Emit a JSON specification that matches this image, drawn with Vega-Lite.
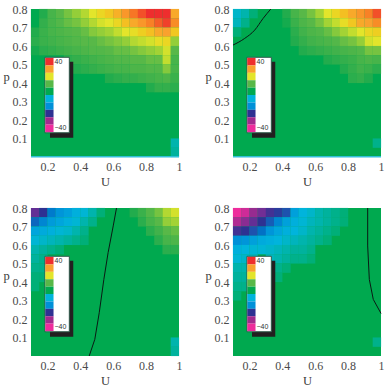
{"$schema":"https://vega.github.io/schema/vega-lite/v6.json","padding":{"left":2,"top":3,"right":2,"bottom":0},"background":"white","bounds":"flush","columns":2,"spacing":{"row":51,"column":54},
"config":{"view":{"stroke":null},"axis":{"domain":false,"ticks":false,"grid":false,"labelFont":"Liberation Serif","titleFont":"Liberation Serif","labelFontSize":12,"titleFontSize":12.5,"titleFontWeight":"normal","labelColor":"#4a4a4a","titleColor":"#3a3a3a"}},
"datasets":{
"bg":[{"u":0.1,"u2":1,"p":0,"p2":0.8,"v":0}],
"shadow":[{"u":0.2155,"u2":0.357,"p":0.104,"p2":0.515}],
"box":[{"u":0.185,"u2":0.333,"p":0.131,"p2":0.539}],
"swatch":[{"u":0.187,"u2":0.237,"p":0.495,"p2":0.535,"v":40},{"u":0.187,"u2":0.237,"p":0.455,"p2":0.495,"v":31},{"u":0.187,"u2":0.237,"p":0.415,"p2":0.455,"v":22},{"u":0.187,"u2":0.237,"p":0.375,"p2":0.415,"v":13},{"u":0.187,"u2":0.237,"p":0.335,"p2":0.375,"v":0},{"u":0.187,"u2":0.237,"p":0.295,"p2":0.335,"v":-11},{"u":0.187,"u2":0.237,"p":0.255,"p2":0.295,"v":-18},{"u":0.187,"u2":0.237,"p":0.215,"p2":0.255,"v":-27},{"u":0.187,"u2":0.237,"p":0.175,"p2":0.215,"v":-35},{"u":0.187,"u2":0.237,"p":0.135,"p2":0.175,"v":-40}],
"lab":[{"u":0.243,"p":0.513,"t":"40"},{"u":0.243,"p":0.156,"t":"−40"}],
"edge1":[{"u":0.1,"p":0.002},{"u":1,"p":0.002}],
"line2":[{"u":0.1,"p":0.605},{"u":0.171,"p":0.641},{"u":0.232,"p":0.686},{"u":0.283,"p":0.749},{"u":0.33,"p":0.8}],
"line3":[{"u":0.62,"p":0.8},{"u":0.6,"p":0.703},{"u":0.569,"p":0.559},{"u":0.543,"p":0.414},{"u":0.515,"p":0.234},{"u":0.488,"p":0.09},{"u":0.454,"p":0}],
"line4":[{"u":0.919,"p":0.8},{"u":0.919,"p":0.595},{"u":0.929,"p":0.414},{"u":0.953,"p":0.306},{"u":1,"p":0.23}],
"h1":[
{"u":0.125,"p":0.775,"v":3},{"u":0.175,"p":0.775,"v":5},{"u":0.225,"p":0.775,"v":10},{"u":0.275,"p":0.775,"v":13},{"u":0.325,"p":0.775,"v":15},{"u":0.375,"p":0.775,"v":17},{"u":0.425,"p":0.775,"v":19},{"u":0.475,"p":0.775,"v":22},{"u":0.525,"p":0.775,"v":24},{"u":0.575,"p":0.775,"v":26},{"u":0.625,"p":0.775,"v":29},{"u":0.675,"p":0.775,"v":32},{"u":0.725,"p":0.775,"v":35},{"u":0.775,"p":0.775,"v":38},{"u":0.825,"p":0.775,"v":40},{"u":0.875,"p":0.775,"v":40},{"u":0.925,"p":0.775,"v":40},{"u":0.975,"p":0.775,"v":30},
{"u":0.125,"p":0.725,"v":3},{"u":0.175,"p":0.725,"v":7},{"u":0.225,"p":0.725,"v":10},{"u":0.275,"p":0.725,"v":12},{"u":0.325,"p":0.725,"v":14},{"u":0.375,"p":0.725,"v":15},{"u":0.425,"p":0.725,"v":17},{"u":0.475,"p":0.725,"v":19},{"u":0.525,"p":0.725,"v":21},{"u":0.575,"p":0.725,"v":22},{"u":0.625,"p":0.725,"v":24},{"u":0.675,"p":0.725,"v":27},{"u":0.725,"p":0.725,"v":30},{"u":0.775,"p":0.725,"v":32},{"u":0.825,"p":0.725,"v":34},{"u":0.875,"p":0.725,"v":37},{"u":0.925,"p":0.725,"v":39},{"u":0.975,"p":0.725,"v":33},
{"u":0.125,"p":0.675,"v":5},{"u":0.175,"p":0.675,"v":8},{"u":0.225,"p":0.675,"v":10},{"u":0.275,"p":0.675,"v":11},{"u":0.325,"p":0.675,"v":12},{"u":0.375,"p":0.675,"v":13},{"u":0.425,"p":0.675,"v":14},{"u":0.475,"p":0.675,"v":16},{"u":0.525,"p":0.675,"v":17},{"u":0.575,"p":0.675,"v":18},{"u":0.625,"p":0.675,"v":20},{"u":0.675,"p":0.675,"v":22},{"u":0.725,"p":0.675,"v":23},{"u":0.775,"p":0.675,"v":25},{"u":0.825,"p":0.675,"v":27},{"u":0.875,"p":0.675,"v":30},{"u":0.925,"p":0.675,"v":31},{"u":0.975,"p":0.675,"v":26},
{"u":0.125,"p":0.625,"v":6},{"u":0.175,"p":0.625,"v":8},{"u":0.225,"p":0.625,"v":9},{"u":0.275,"p":0.625,"v":10},{"u":0.325,"p":0.625,"v":11},{"u":0.375,"p":0.625,"v":12},{"u":0.425,"p":0.625,"v":13},{"u":0.475,"p":0.625,"v":13},{"u":0.525,"p":0.625,"v":14},{"u":0.575,"p":0.625,"v":15},{"u":0.625,"p":0.625,"v":16},{"u":0.675,"p":0.625,"v":17},{"u":0.725,"p":0.625,"v":19},{"u":0.775,"p":0.625,"v":20},{"u":0.825,"p":0.625,"v":21},{"u":0.875,"p":0.625,"v":23},{"u":0.925,"p":0.625,"v":24},{"u":0.975,"p":0.625,"v":17},
{"u":0.125,"p":0.575,"v":4},{"u":0.175,"p":0.575,"v":6},{"u":0.225,"p":0.575,"v":7},{"u":0.275,"p":0.575,"v":8},{"u":0.325,"p":0.575,"v":9},{"u":0.375,"p":0.575,"v":10},{"u":0.425,"p":0.575,"v":11},{"u":0.475,"p":0.575,"v":12},{"u":0.525,"p":0.575,"v":12},{"u":0.575,"p":0.575,"v":13},{"u":0.625,"p":0.575,"v":14},{"u":0.675,"p":0.575,"v":14},{"u":0.725,"p":0.575,"v":15},{"u":0.775,"p":0.575,"v":16},{"u":0.825,"p":0.575,"v":17},{"u":0.875,"p":0.575,"v":18},{"u":0.925,"p":0.575,"v":21},{"u":0.975,"p":0.575,"v":13},
{"u":0.325,"p":0.525,"v":6},{"u":0.375,"p":0.525,"v":7},{"u":0.425,"p":0.525,"v":8},{"u":0.475,"p":0.525,"v":9},{"u":0.525,"p":0.525,"v":10},{"u":0.575,"p":0.525,"v":11},{"u":0.625,"p":0.525,"v":12},{"u":0.675,"p":0.525,"v":12},{"u":0.725,"p":0.525,"v":13},{"u":0.775,"p":0.525,"v":13},{"u":0.825,"p":0.525,"v":14},{"u":0.875,"p":0.525,"v":14},{"u":0.925,"p":0.525,"v":20},{"u":0.975,"p":0.525,"v":10},
{"u":0.375,"p":0.475,"v":5},{"u":0.425,"p":0.475,"v":6},{"u":0.475,"p":0.475,"v":7},{"u":0.525,"p":0.475,"v":8},{"u":0.575,"p":0.475,"v":9},{"u":0.625,"p":0.475,"v":10},{"u":0.675,"p":0.475,"v":10},{"u":0.725,"p":0.475,"v":11},{"u":0.775,"p":0.475,"v":11},{"u":0.825,"p":0.475,"v":12},{"u":0.875,"p":0.475,"v":12},{"u":0.925,"p":0.475,"v":16},{"u":0.975,"p":0.475,"v":10},
{"u":0.575,"p":0.425,"v":5},{"u":0.625,"p":0.425,"v":6},{"u":0.675,"p":0.425,"v":7},{"u":0.725,"p":0.425,"v":7},{"u":0.775,"p":0.425,"v":8},{"u":0.825,"p":0.425,"v":9},{"u":0.875,"p":0.425,"v":10},{"u":0.925,"p":0.425,"v":11},{"u":0.975,"p":0.425,"v":8},
{"u":0.825,"p":0.375,"v":5},{"u":0.875,"p":0.375,"v":7},{"u":0.925,"p":0.375,"v":7},{"u":0.975,"p":0.375,"v":6},
{"u":0.975,"p":0.075,"v":-7},{"u":0.975,"p":0.025,"v":-6}],
"h2":[
{"u":0.125,"p":0.775,"v":-9},{"u":0.175,"p":0.775,"v":-7},{"u":0.225,"p":0.775,"v":-4},{"u":0.425,"p":0.775,"v":5},{"u":0.475,"p":0.775,"v":10},{"u":0.525,"p":0.775,"v":13},{"u":0.575,"p":0.775,"v":15},{"u":0.625,"p":0.775,"v":18},{"u":0.675,"p":0.775,"v":22},{"u":0.725,"p":0.775,"v":24},{"u":0.775,"p":0.775,"v":27},{"u":0.825,"p":0.775,"v":30},{"u":0.875,"p":0.775,"v":32},{"u":0.925,"p":0.775,"v":34},{"u":0.975,"p":0.775,"v":38},
{"u":0.125,"p":0.725,"v":-8},{"u":0.175,"p":0.725,"v":-5},{"u":0.425,"p":0.725,"v":4},{"u":0.475,"p":0.725,"v":8},{"u":0.525,"p":0.725,"v":11},{"u":0.575,"p":0.725,"v":13},{"u":0.625,"p":0.725,"v":15},{"u":0.675,"p":0.725,"v":18},{"u":0.725,"p":0.725,"v":20},{"u":0.775,"p":0.725,"v":23},{"u":0.825,"p":0.725,"v":26},{"u":0.875,"p":0.725,"v":30},{"u":0.925,"p":0.725,"v":31},{"u":0.975,"p":0.725,"v":33},
{"u":0.125,"p":0.675,"v":-4},{"u":0.475,"p":0.675,"v":6},{"u":0.525,"p":0.675,"v":9},{"u":0.575,"p":0.675,"v":11},{"u":0.625,"p":0.675,"v":12},{"u":0.675,"p":0.675,"v":14},{"u":0.725,"p":0.675,"v":16},{"u":0.775,"p":0.675,"v":18},{"u":0.825,"p":0.675,"v":20},{"u":0.875,"p":0.675,"v":22},{"u":0.925,"p":0.675,"v":24},{"u":0.975,"p":0.675,"v":25},
{"u":0.475,"p":0.625,"v":5},{"u":0.525,"p":0.625,"v":7},{"u":0.575,"p":0.625,"v":9},{"u":0.625,"p":0.625,"v":10},{"u":0.675,"p":0.625,"v":11},{"u":0.725,"p":0.625,"v":12},{"u":0.775,"p":0.625,"v":14},{"u":0.825,"p":0.625,"v":15},{"u":0.875,"p":0.625,"v":17},{"u":0.925,"p":0.625,"v":21},{"u":0.975,"p":0.625,"v":22},
{"u":0.525,"p":0.575,"v":5},{"u":0.575,"p":0.575,"v":6},{"u":0.625,"p":0.575,"v":7},{"u":0.675,"p":0.575,"v":8},{"u":0.725,"p":0.575,"v":9},{"u":0.775,"p":0.575,"v":10},{"u":0.825,"p":0.575,"v":11},{"u":0.875,"p":0.575,"v":12},{"u":0.925,"p":0.575,"v":15},{"u":0.975,"p":0.575,"v":15},
{"u":0.675,"p":0.525,"v":5},{"u":0.725,"p":0.525,"v":6},{"u":0.775,"p":0.525,"v":7},{"u":0.825,"p":0.525,"v":8},{"u":0.875,"p":0.525,"v":10},{"u":0.925,"p":0.525,"v":11},{"u":0.975,"p":0.525,"v":10},
{"u":0.775,"p":0.475,"v":5},{"u":0.825,"p":0.475,"v":7},{"u":0.875,"p":0.475,"v":9},{"u":0.925,"p":0.475,"v":8},{"u":0.975,"p":0.475,"v":6},
{"u":0.825,"p":0.425,"v":6},{"u":0.875,"p":0.425,"v":7},{"u":0.925,"p":0.425,"v":5},
{"u":0.975,"p":0.075,"v":-5}],
"h3":[
{"u":0.125,"p":0.775,"v":-30},{"u":0.175,"p":0.775,"v":-27},{"u":0.225,"p":0.775,"v":-20},{"u":0.275,"p":0.775,"v":-17},{"u":0.325,"p":0.775,"v":-15},{"u":0.375,"p":0.775,"v":-12},{"u":0.425,"p":0.775,"v":-10},{"u":0.475,"p":0.775,"v":-7},{"u":0.525,"p":0.775,"v":-4},{"u":0.725,"p":0.775,"v":5},{"u":0.775,"p":0.775,"v":8},{"u":0.825,"p":0.775,"v":12},{"u":0.875,"p":0.775,"v":15},{"u":0.925,"p":0.775,"v":19},{"u":0.975,"p":0.775,"v":21},
{"u":0.125,"p":0.725,"v":-22},{"u":0.175,"p":0.725,"v":-19},{"u":0.225,"p":0.725,"v":-16},{"u":0.275,"p":0.725,"v":-14},{"u":0.325,"p":0.725,"v":-12},{"u":0.375,"p":0.725,"v":-10},{"u":0.425,"p":0.725,"v":-7},{"u":0.475,"p":0.725,"v":-5},{"u":0.775,"p":0.725,"v":6},{"u":0.825,"p":0.725,"v":10},{"u":0.875,"p":0.725,"v":13},{"u":0.925,"p":0.725,"v":17},{"u":0.975,"p":0.725,"v":18},
{"u":0.125,"p":0.675,"v":-14},{"u":0.175,"p":0.675,"v":-13},{"u":0.225,"p":0.675,"v":-12},{"u":0.275,"p":0.675,"v":-10},{"u":0.325,"p":0.675,"v":-9},{"u":0.375,"p":0.675,"v":-7},{"u":0.425,"p":0.675,"v":-5},{"u":0.825,"p":0.675,"v":6},{"u":0.875,"p":0.675,"v":9},{"u":0.925,"p":0.675,"v":13},{"u":0.975,"p":0.675,"v":14},
{"u":0.125,"p":0.625,"v":-10},{"u":0.175,"p":0.625,"v":-9},{"u":0.225,"p":0.625,"v":-8},{"u":0.275,"p":0.625,"v":-7},{"u":0.325,"p":0.625,"v":-6},{"u":0.375,"p":0.625,"v":-5},{"u":0.425,"p":0.625,"v":-4},{"u":0.875,"p":0.625,"v":6},{"u":0.925,"p":0.625,"v":10},{"u":0.975,"p":0.625,"v":11},
{"u":0.125,"p":0.575,"v":-7},{"u":0.175,"p":0.575,"v":-6},{"u":0.225,"p":0.575,"v":-5},{"u":0.275,"p":0.575,"v":-4},{"u":0.925,"p":0.575,"v":6},{"u":0.975,"p":0.575,"v":6},
{"u":0.125,"p":0.525,"v":-6},{"u":0.175,"p":0.525,"v":-5},
{"u":0.125,"p":0.475,"v":-5},{"u":0.175,"p":0.475,"v":-5},
{"u":0.125,"p":0.425,"v":-4},{"u":0.175,"p":0.425,"v":-4},
{"u":0.125,"p":0.375,"v":-4},
{"u":0.975,"p":0.075,"v":-7},{"u":0.975,"p":0.025,"v":-6}],
"h4":[
{"u":0.125,"p":0.775,"v":-40},{"u":0.175,"p":0.775,"v":-38},{"u":0.225,"p":0.775,"v":-34},{"u":0.275,"p":0.775,"v":-31},{"u":0.325,"p":0.775,"v":-28},{"u":0.375,"p":0.775,"v":-26},{"u":0.425,"p":0.775,"v":-24},{"u":0.475,"p":0.775,"v":-15},{"u":0.525,"p":0.775,"v":-11},{"u":0.575,"p":0.775,"v":-9},{"u":0.625,"p":0.775,"v":-7},{"u":0.675,"p":0.775,"v":-6},{"u":0.725,"p":0.775,"v":-5},{"u":0.775,"p":0.775,"v":-4},
{"u":0.125,"p":0.725,"v":-36},{"u":0.175,"p":0.725,"v":-33},{"u":0.225,"p":0.725,"v":-30},{"u":0.275,"p":0.725,"v":-27},{"u":0.325,"p":0.725,"v":-23},{"u":0.375,"p":0.725,"v":-19},{"u":0.425,"p":0.725,"v":-15},{"u":0.475,"p":0.725,"v":-12},{"u":0.525,"p":0.725,"v":-10},{"u":0.575,"p":0.725,"v":-8},{"u":0.625,"p":0.725,"v":-7},{"u":0.675,"p":0.725,"v":-6},{"u":0.725,"p":0.725,"v":-5},{"u":0.775,"p":0.725,"v":-4},
{"u":0.125,"p":0.675,"v":-28},{"u":0.175,"p":0.675,"v":-27},{"u":0.225,"p":0.675,"v":-24},{"u":0.275,"p":0.675,"v":-21},{"u":0.325,"p":0.675,"v":-17},{"u":0.375,"p":0.675,"v":-14},{"u":0.425,"p":0.675,"v":-12},{"u":0.475,"p":0.675,"v":-11},{"u":0.525,"p":0.675,"v":-9},{"u":0.575,"p":0.675,"v":-7},{"u":0.625,"p":0.675,"v":-6},{"u":0.675,"p":0.675,"v":-5},{"u":0.725,"p":0.675,"v":-4},
{"u":0.125,"p":0.625,"v":-18},{"u":0.175,"p":0.625,"v":-17},{"u":0.225,"p":0.625,"v":-15},{"u":0.275,"p":0.625,"v":-13},{"u":0.325,"p":0.625,"v":-12},{"u":0.375,"p":0.625,"v":-11},{"u":0.425,"p":0.625,"v":-9},{"u":0.475,"p":0.625,"v":-8},{"u":0.525,"p":0.625,"v":-7},{"u":0.575,"p":0.625,"v":-6},{"u":0.625,"p":0.625,"v":-5},{"u":0.675,"p":0.625,"v":-4},
{"u":0.125,"p":0.575,"v":-12},{"u":0.175,"p":0.575,"v":-11},{"u":0.225,"p":0.575,"v":-10},{"u":0.275,"p":0.575,"v":-10},{"u":0.325,"p":0.575,"v":-9},{"u":0.375,"p":0.575,"v":-8},{"u":0.425,"p":0.575,"v":-7},{"u":0.475,"p":0.575,"v":-6},{"u":0.525,"p":0.575,"v":-6},{"u":0.575,"p":0.575,"v":-5},
{"u":0.125,"p":0.525,"v":-10},{"u":0.175,"p":0.525,"v":-9},{"u":0.225,"p":0.525,"v":-9},{"u":0.325,"p":0.525,"v":-8},{"u":0.375,"p":0.525,"v":-7},{"u":0.425,"p":0.525,"v":-6},{"u":0.475,"p":0.525,"v":-5},{"u":0.525,"p":0.525,"v":-5},{"u":0.575,"p":0.525,"v":-4},
{"u":0.125,"p":0.475,"v":-7},{"u":0.175,"p":0.475,"v":-7},{"u":0.325,"p":0.475,"v":-6},{"u":0.375,"p":0.475,"v":-5},{"u":0.425,"p":0.475,"v":-4},
{"u":0.125,"p":0.425,"v":-6},{"u":0.175,"p":0.425,"v":-6},{"u":0.325,"p":0.425,"v":-4},{"u":0.375,"p":0.425,"v":-4},
{"u":0.125,"p":0.375,"v":-5},{"u":0.175,"p":0.375,"v":-5},
{"u":0.125,"p":0.325,"v":-4},
{"u":0.975,"p":0.075,"v":-5}]
},
"concat":[
{"width":148,"height":148,
"encoding":{"x":{"field":"u","type":"quantitative","title":"U","scale":{"domain":[0.1,1],"nice":false,"zero":false},"axis":{"values":[0.2,0.4,0.6,0.8,1],"format":".1~f","labelPadding":4,"labelFlush":false,"titlePadding":3}},"y":{"field":"p","type":"quantitative","title":"p","scale":{"domain":[0,0.8],"nice":false,"zero":false},"axis":{"values":[0.1,0.2,0.3,0.4,0.5,0.6,0.7,0.8],"format":".1f","labelPadding":4,"labelFlush":false,"titleAngle":0,"titlePadding":6}}},
"layer":[
{"data":{"name":"bg"},"mark":"rect","encoding":{"x2":{"field":"u2"},"y2":{"field":"p2"},"color":{"field":"v","type":"quantitative","legend":null,"scale":{"domain":[-40,-35,-27,-18,-11,-2,3,13,22,31,40],"range":["#ee2c9c","#a22a8e","#2e3192","#0090d8","#00b4dc","#00a94f","#00a94f","#58b848","#e3e52b","#f9a12e","#ee2e2e"]}}}},
{"data":{"name":"h1"},"mark":{"type":"rect","width":8.4,"height":9.4},"encoding":{"color":{"field":"v","type":"quantitative","legend":null,"scale":{"domain":[-40,-35,-27,-18,-11,-2,3,13,22,31,40],"range":["#ee2c9c","#a22a8e","#2e3192","#0090d8","#00b4dc","#00a94f","#00a94f","#58b848","#e3e52b","#f9a12e","#ee2e2e"]}}}},
{"data":{"name":"edge1"},"mark":{"type":"line","color":"#30c0d8","strokeWidth":1.5},"encoding":{}},
{"data":{"name":"shadow"},"mark":{"type":"rect","color":"#231f20"},"encoding":{"x2":{"field":"u2"},"y2":{"field":"p2"}}},
{"data":{"name":"box"},"mark":{"type":"rect","fill":"white","stroke":"#2f5a4a","strokeWidth":1},"encoding":{"x2":{"field":"u2"},"y2":{"field":"p2"}}},
{"data":{"name":"swatch"},"mark":"rect","encoding":{"x2":{"field":"u2"},"y2":{"field":"p2"},"color":{"field":"v","type":"quantitative","legend":null,"scale":{"domain":[-40,-35,-27,-18,-11,-2,3,13,22,31,40],"range":["#ee2c9c","#a22a8e","#2e3192","#0090d8","#00b4dc","#00a94f","#00a94f","#58b848","#e3e52b","#f9a12e","#ee2e2e"]}}}},
{"data":{"name":"lab"},"mark":{"type":"text","align":"left","baseline":"middle","font":"Liberation Sans","fontSize":7,"color":"#333"},"encoding":{"text":{"field":"t"}}}
]},
{"width":148,"height":148,
"encoding":{"x":{"field":"u","type":"quantitative","title":"U","scale":{"domain":[0.1,1],"nice":false,"zero":false},"axis":{"values":[0.2,0.4,0.6,0.8,1],"format":".1~f","labelPadding":4,"labelFlush":false,"titlePadding":3}},"y":{"field":"p","type":"quantitative","title":"p","scale":{"domain":[0,0.8],"nice":false,"zero":false},"axis":{"values":[0.1,0.2,0.3,0.4,0.5,0.6,0.7,0.8],"format":".1f","labelPadding":4,"labelFlush":false,"titleAngle":0,"titlePadding":6}}},
"layer":[
{"data":{"name":"bg"},"mark":"rect","encoding":{"x2":{"field":"u2"},"y2":{"field":"p2"},"color":{"field":"v","type":"quantitative","legend":null,"scale":{"domain":[-40,-35,-27,-18,-11,-2,3,13,22,31,40],"range":["#ee2c9c","#a22a8e","#2e3192","#0090d8","#00b4dc","#00a94f","#00a94f","#58b848","#e3e52b","#f9a12e","#ee2e2e"]}}}},
{"data":{"name":"h2"},"mark":{"type":"rect","width":8.4,"height":9.4},"encoding":{"color":{"field":"v","type":"quantitative","legend":null,"scale":{"domain":[-40,-35,-27,-18,-11,-2,3,13,22,31,40],"range":["#ee2c9c","#a22a8e","#2e3192","#0090d8","#00b4dc","#00a94f","#00a94f","#58b848","#e3e52b","#f9a12e","#ee2e2e"]}}}},
{"data":{"name":"edge1"},"mark":{"type":"line","color":"#30c0d8","strokeWidth":1.5},"encoding":{}},
{"data":{"name":"line2"},"mark":{"type":"line","color":"#0a1a14","strokeWidth":1,"interpolate":"monotone"},"encoding":{}},
{"data":{"name":"shadow"},"mark":{"type":"rect","color":"#231f20"},"encoding":{"x2":{"field":"u2"},"y2":{"field":"p2"}}},
{"data":{"name":"box"},"mark":{"type":"rect","fill":"white","stroke":"#2f5a4a","strokeWidth":1},"encoding":{"x2":{"field":"u2"},"y2":{"field":"p2"}}},
{"data":{"name":"swatch"},"mark":"rect","encoding":{"x2":{"field":"u2"},"y2":{"field":"p2"},"color":{"field":"v","type":"quantitative","legend":null,"scale":{"domain":[-40,-35,-27,-18,-11,-2,3,13,22,31,40],"range":["#ee2c9c","#a22a8e","#2e3192","#0090d8","#00b4dc","#00a94f","#00a94f","#58b848","#e3e52b","#f9a12e","#ee2e2e"]}}}},
{"data":{"name":"lab"},"mark":{"type":"text","align":"left","baseline":"middle","font":"Liberation Sans","fontSize":7,"color":"#333"},"encoding":{"text":{"field":"t"}}}
]},
{"width":148,"height":148,
"encoding":{"x":{"field":"u","type":"quantitative","title":"U","scale":{"domain":[0.1,1],"nice":false,"zero":false},"axis":{"values":[0.2,0.4,0.6,0.8,1],"format":".1~f","labelPadding":4,"labelFlush":false,"titlePadding":3}},"y":{"field":"p","type":"quantitative","title":"p","scale":{"domain":[0,0.8],"nice":false,"zero":false},"axis":{"values":[0.1,0.2,0.3,0.4,0.5,0.6,0.7,0.8],"format":".1f","labelPadding":4,"labelFlush":false,"titleAngle":0,"titlePadding":6}}},
"layer":[
{"data":{"name":"bg"},"mark":"rect","encoding":{"x2":{"field":"u2"},"y2":{"field":"p2"},"color":{"field":"v","type":"quantitative","legend":null,"scale":{"domain":[-40,-35,-27,-18,-11,-2,3,13,22,31,40],"range":["#ee2c9c","#a22a8e","#2e3192","#0090d8","#00b4dc","#00a94f","#00a94f","#58b848","#e3e52b","#f9a12e","#ee2e2e"]}}}},
{"data":{"name":"h3"},"mark":{"type":"rect","width":8.4,"height":9.4},"encoding":{"color":{"field":"v","type":"quantitative","legend":null,"scale":{"domain":[-40,-35,-27,-18,-11,-2,3,13,22,31,40],"range":["#ee2c9c","#a22a8e","#2e3192","#0090d8","#00b4dc","#00a94f","#00a94f","#58b848","#e3e52b","#f9a12e","#ee2e2e"]}}}},
{"data":{"name":"line3"},"mark":{"type":"line","color":"#0a1a14","strokeWidth":1},"encoding":{}},
{"data":{"name":"shadow"},"mark":{"type":"rect","color":"#231f20"},"encoding":{"x2":{"field":"u2"},"y2":{"field":"p2"}}},
{"data":{"name":"box"},"mark":{"type":"rect","fill":"white","stroke":"#2f5a4a","strokeWidth":1},"encoding":{"x2":{"field":"u2"},"y2":{"field":"p2"}}},
{"data":{"name":"swatch"},"mark":"rect","encoding":{"x2":{"field":"u2"},"y2":{"field":"p2"},"color":{"field":"v","type":"quantitative","legend":null,"scale":{"domain":[-40,-35,-27,-18,-11,-2,3,13,22,31,40],"range":["#ee2c9c","#a22a8e","#2e3192","#0090d8","#00b4dc","#00a94f","#00a94f","#58b848","#e3e52b","#f9a12e","#ee2e2e"]}}}},
{"data":{"name":"lab"},"mark":{"type":"text","align":"left","baseline":"middle","font":"Liberation Sans","fontSize":7,"color":"#333"},"encoding":{"text":{"field":"t"}}}
]},
{"width":148,"height":148,
"encoding":{"x":{"field":"u","type":"quantitative","title":"U","scale":{"domain":[0.1,1],"nice":false,"zero":false},"axis":{"values":[0.2,0.4,0.6,0.8,1],"format":".1~f","labelPadding":4,"labelFlush":false,"titlePadding":3}},"y":{"field":"p","type":"quantitative","title":"p","scale":{"domain":[0,0.8],"nice":false,"zero":false},"axis":{"values":[0.1,0.2,0.3,0.4,0.5,0.6,0.7,0.8],"format":".1f","labelPadding":4,"labelFlush":false,"titleAngle":0,"titlePadding":6}}},
"layer":[
{"data":{"name":"bg"},"mark":"rect","encoding":{"x2":{"field":"u2"},"y2":{"field":"p2"},"color":{"field":"v","type":"quantitative","legend":null,"scale":{"domain":[-40,-35,-27,-18,-11,-2,3,13,22,31,40],"range":["#ee2c9c","#a22a8e","#2e3192","#0090d8","#00b4dc","#00a94f","#00a94f","#58b848","#e3e52b","#f9a12e","#ee2e2e"]}}}},
{"data":{"name":"h4"},"mark":{"type":"rect","width":8.4,"height":9.4},"encoding":{"color":{"field":"v","type":"quantitative","legend":null,"scale":{"domain":[-40,-35,-27,-18,-11,-2,3,13,22,31,40],"range":["#ee2c9c","#a22a8e","#2e3192","#0090d8","#00b4dc","#00a94f","#00a94f","#58b848","#e3e52b","#f9a12e","#ee2e2e"]}}}},
{"data":{"name":"line4"},"mark":{"type":"line","color":"#0a1a14","strokeWidth":1},"encoding":{}},
{"data":{"name":"shadow"},"mark":{"type":"rect","color":"#231f20"},"encoding":{"x2":{"field":"u2"},"y2":{"field":"p2"}}},
{"data":{"name":"box"},"mark":{"type":"rect","fill":"white","stroke":"#2f5a4a","strokeWidth":1},"encoding":{"x2":{"field":"u2"},"y2":{"field":"p2"}}},
{"data":{"name":"swatch"},"mark":"rect","encoding":{"x2":{"field":"u2"},"y2":{"field":"p2"},"color":{"field":"v","type":"quantitative","legend":null,"scale":{"domain":[-40,-35,-27,-18,-11,-2,3,13,22,31,40],"range":["#ee2c9c","#a22a8e","#2e3192","#0090d8","#00b4dc","#00a94f","#00a94f","#58b848","#e3e52b","#f9a12e","#ee2e2e"]}}}},
{"data":{"name":"lab"},"mark":{"type":"text","align":"left","baseline":"middle","font":"Liberation Sans","fontSize":7,"color":"#333"},"encoding":{"text":{"field":"t"}}}
]}
]}
